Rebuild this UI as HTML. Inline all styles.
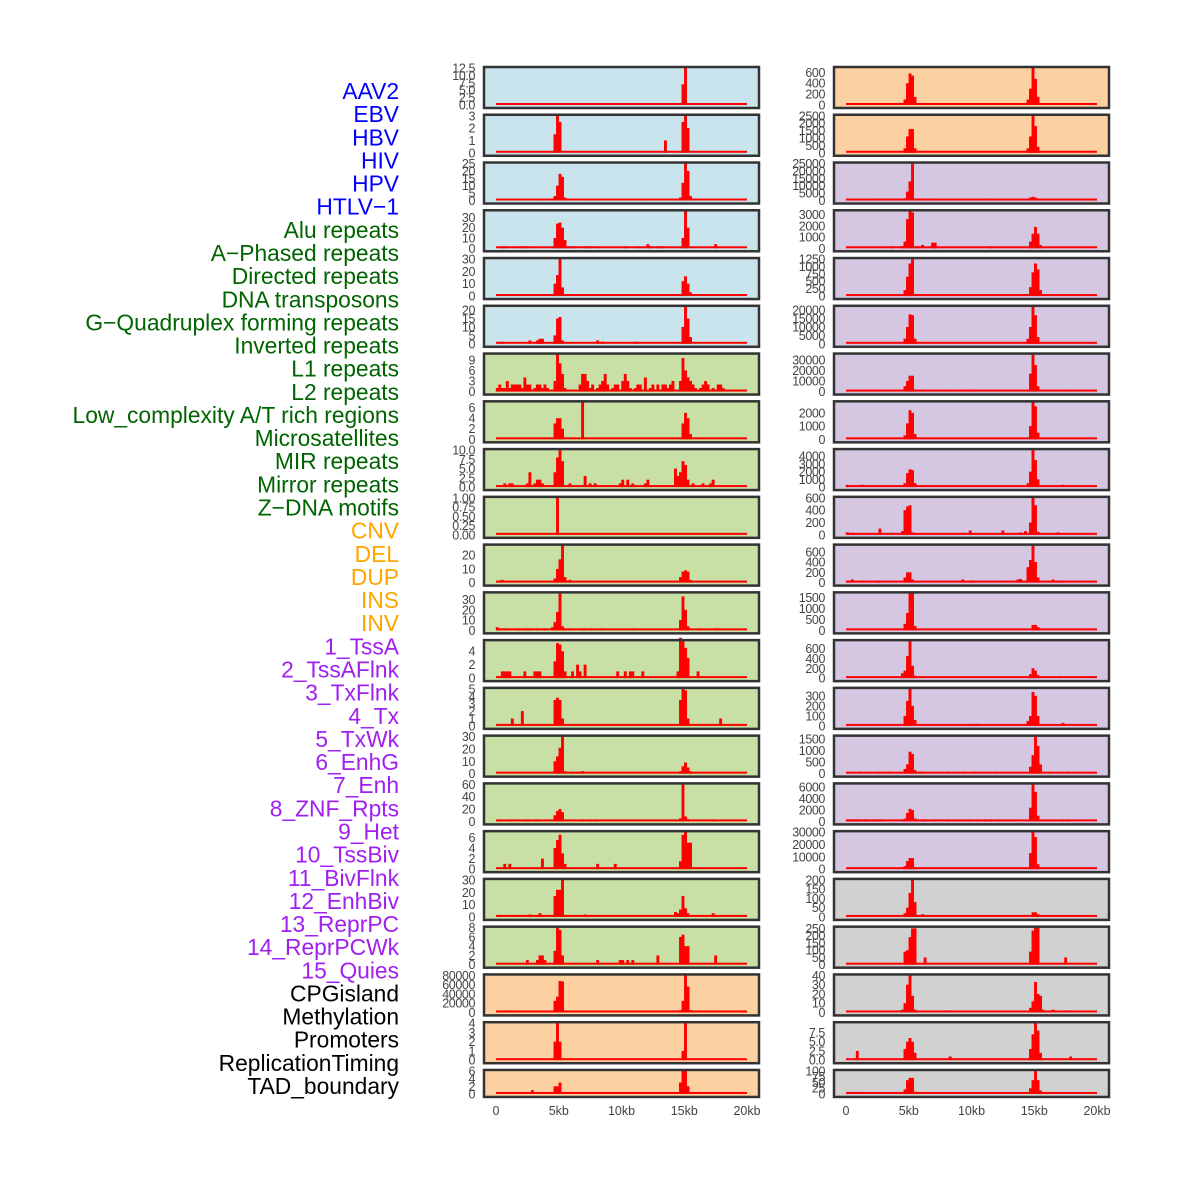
<!DOCTYPE html>
<html><head><meta charset="utf-8"><style>
html,body{margin:0;padding:0;background:#fff;}
svg{display:block;font-family:"Liberation Sans",Arial,sans-serif;}
</style></head><body>
<svg id="chart" width="1182" height="1182" viewBox="0 0 1182 1182" xmlns="http://www.w3.org/2000/svg"></svg>
<script>
// ---- data ----
const labelNames = ["AAV2","EBV","HBV","HIV","HPV","HTLV\u22121","Alu repeats","A\u2212Phased repeats","Directed repeats","DNA transposons","G\u2212Quadruplex forming repeats","Inverted repeats","L1 repeats","L2 repeats","Low_complexity A/T rich regions","Microsatellites","MIR repeats","Mirror repeats","Z\u2212DNA motifs","CNV","DEL","DUP","INS","INV","1_TssA","2_TssAFlnk","3_TxFlnk","4_Tx","5_TxWk","6_EnhG","7_Enh","8_ZNF_Rpts","9_Het","10_TssBiv","11_BivFlnk","12_EnhBiv","13_ReprPC","14_ReprPCWk","15_Quies","CPGisland","Methylation","Promoters","ReplicationTiming","TAD_boundary"];
const labelGroups = [0,0,0,0,0,0,1,1,1,1,1,1,1,1,1,1,1,1,1,2,2,2,2,2,3,3,3,3,3,3,3,3,3,3,3,3,3,3,3,4,4,4,4,4];
const xTickLabels = ["0","5kb","10kb","15kb","20kb"];
const xTickValues = [0,5,10,15,20];
const binKb = 0.2;

// left column panels (row order)
const leftMax = [12.5,3,25,36,30,22,10.5,7,10,1,27,36,5.5,5,30,60,7,30,8,80000,4,6];
const leftTicks = [[0,2.5,5,7.5,10,12.5],[0,1,2,3],[0,5,10,15,20,25],[0,10,20,30],[0,10,20,30],[0,5,10,15,20],[0,3,6,9],[0,2,4,6],[0,2.5,5,7.5,10],[0,0.25,0.5,0.75,1],[0,10,20],[0,10,20,30],[0,2,4],[0,1,2,3,4,5],[0,10,20,30],[0,20,40,60],[0,2,4,6],[0,10,20,30],[0,2,4,6,8],[0,20000,40000,60000,80000],[0,1,2,3,4],[0,2,4,6]];
const leftTickLabels = [["0.0","2.5","5.0","7.5","10.0","12.5"],null,null,null,null,null,null,null,["0.0","2.5","5.0","7.5","10.0"],["0.00","0.25","0.50","0.75","1.00"],null,null,null,null,null,null,null,null,null,null,null,null];
const leftSeries = [
[[74,7],[75,12.5]],
[[23,1.5],[24,3],[25,2.5],[67,1],[74,2.5],[75,3],[76,2]],
[[18,1],[23,3],[24,10],[25,18],[26,16],[27,2],[38,1],[59,1],[73,2],[74,12],[75,25],[76,20],[77,3]],
[[2,1],[3,2],[8,1],[10,2],[12,2],[23,10],[24,24],[25,25],[26,20],[27,8],[29,1],[31,2],[36,1],[37,1],[40,1],[51,1],[56,1],[60,4],[61,2],[64,2],[66,2],[74,10],[75,36],[76,20],[87,4]],
[[23,10],[24,17],[25,30],[26,7],[74,12],[75,16],[76,10],[77,3]],
[[2,1],[13,2],[16,2],[17,3],[18,3],[23,5],[24,15],[25,16],[26,2],[40,2],[42,1],[55,1],[74,10],[75,22],[76,15],[77,4]],
[[0,1],[1,2],[2,1],[3,1],[4,3],[5,1],[6,2],[7,2],[8,2],[9,2],[10,1],[11,4],[12,2],[13,2],[15,1],[16,2],[17,2],[18,1],[19,2],[20,1],[23,3],[24,10.5],[25,8],[26,5],[27,1],[33,2],[34,5],[35,5],[36,3],[37,1],[38,2],[40,1],[41,2],[42,3],[43,5],[44,2],[46,1],[47,2],[48,2],[50,3],[51,5],[52,3],[53,1],[55,1],[56,2],[57,2],[59,4],[61,1],[62,2],[64,2],[66,2],[67,2],[68,1],[69,2],[70,3],[73,3],[74,9.5],[75,6],[76,4],[77,3],[78,2],[79,1],[81,1],[82,2],[83,3],[84,2],[86,1],[88,2],[89,2],[90,1]],
[[23,3],[24,4],[25,4],[26,2],[34,7],[74,3],[75,5],[76,4],[77,1]],
[[3,1],[5,1],[6,1],[12,1],[13,4],[15,1],[16,2],[17,2],[18,1],[23,4],[24,8],[25,10],[26,7],[29,1],[35,3],[37,1],[39,1],[49,1],[50,2],[52,2],[54,1],[59,1],[60,2],[71,5],[72,3],[73,4],[74,7],[75,6],[76,2],[78,1],[82,1],[85,1],[86,2]],
[[24,1]],
[[1,1],[2,2],[23,3],[24,10],[25,17],[26,27],[27,4],[29,2],[73,4],[74,8],[75,9],[76,8],[77,2]],
[[0,3],[1,1],[3,1],[8,1],[9,1],[11,1],[12,2],[13,1],[16,1],[19,2],[22,3],[23,8],[24,18],[25,36],[26,4],[27,2],[29,1],[34,1],[35,2],[37,1],[42,1],[54,1],[73,10],[74,33],[75,20],[76,4],[81,1],[87,2],[88,1]],
[[2,1],[3,1],[4,1],[5,1],[11,1],[15,1],[16,1],[17,1],[23,2.5],[24,5.2],[25,5],[26,4],[27,1],[30,1],[32,2],[33,1],[35,2],[48,1],[51,1],[53,1],[54,1],[58,1],[72,1],[73,6],[74,5.5],[75,4.5],[76,3],[80,1]],
[[6,1],[10,2],[23,3.5],[24,3.8],[25,3.5],[26,1],[73,3.5],[74,5],[75,4.8],[76,1],[89,1]],
[[23,10],[24,14],[25,21],[26,30],[27,2],[29,1],[30,1],[32,1],[34,2],[73,2],[74,6],[75,9],[76,5],[77,2]],
[[1,1],[5,1],[12,2],[15,2],[16,2],[23,10],[24,17],[25,20],[26,15],[27,3],[34,2],[37,2],[39,2],[73,5],[74,60],[75,8],[76,4],[86,2]],
[[3,1],[5,1],[18,2],[23,4],[24,5.5],[25,6.5],[26,3],[27,1],[40,1],[47,1],[73,1.5],[74,6.5],[75,7],[76,5],[77,5]],
[[1,1],[7,1],[13,2],[17,3],[18,1],[23,17],[24,22],[25,22],[26,30],[27,1],[35,2],[37,1],[71,4],[72,3],[73,6],[74,17],[75,7],[76,3],[86,3],[87,1]],
[[12,1],[16,1],[17,2],[18,2],[19,1],[23,3],[24,8],[25,7.5],[26,2],[40,1],[49,1],[50,1],[52,1],[54,1],[64,2],[73,6],[74,6.5],[75,4],[76,4],[87,2]],
[[3,2000],[5,2000],[6,2000],[23,25000],[24,34000],[25,68000],[26,67000],[27,3000],[73,5000],[74,25000],[75,80000],[76,56000],[77,5000],[85,2000],[88,2000]],
[[23,2],[24,4],[25,2],[74,1],[75,4]],
[[14,1],[23,2],[24,2],[25,3],[73,3],[74,6],[75,6],[76,2]]
];

// right column panels (row order)
const rightMax = [680,2500,25000,3300,1250,22000,35000,2800,4800,600,720,1700,750,370,1600,6500,30000,200,255,40,10,100];
const rightTicks = [[0,200,400,600],[0,500,1000,1500,2000,2500],[0,5000,10000,15000,20000,25000],[0,1000,2000,3000],[0,250,500,750,1000,1250],[0,5000,10000,15000,20000],[0,10000,20000,30000],[0,1000,2000],[0,1000,2000,3000,4000],[0,200,400,600],[0,200,400,600],[0,500,1000,1500],[0,200,400,600],[0,100,200,300],[0,500,1000,1500],[0,2000,4000,6000],[0,10000,20000,30000],[0,50,100,150,200],[0,50,100,150,200,250],[0,10,20,30,40],[0,2.5,5,7.5],[0,25,50,75,100]];
const rightTickLabels = [null,null,null,null,null,null,null,null,null,null,null,null,null,null,null,null,null,null,null,null,["0.0","2.5","5.0","7.5"],null];
const rightSeries = [
[[11,20],[34,20],[45,20],[23,100],[24,400],[25,580],[26,540],[27,150],[72,100],[73,300],[74,680],[75,480],[76,150],[77,30]],
[[23,300],[24,1100],[25,1600],[26,1600],[27,300],[72,300],[73,1100],[74,2500],[75,1800],[76,400]],
[[12,1000],[15,1000],[18,1000],[23,1500],[24,6000],[25,13000],[26,25000],[27,1000],[28,1000],[29,1000],[32,1000],[55,800],[72,1000],[73,2000],[74,2500],[75,2000],[76,1000]],
[[18,100],[22,200],[23,600],[24,2600],[25,3300],[26,3200],[27,100],[28,100],[30,300],[34,500],[35,500],[57,100],[73,600],[74,1300],[75,1900],[76,1300],[77,300]],
[[23,200],[24,650],[25,1100],[26,1250],[27,50],[73,300],[74,800],[75,1100],[76,900],[77,200]],
[[23,3000],[24,10000],[25,17500],[26,17000],[27,3000],[72,3000],[73,10000],[74,22000],[75,17000],[76,4000]],
[[3,1000],[7,1000],[9,1000],[11,1000],[23,5000],[24,10000],[25,15000],[26,15000],[27,2000],[31,1000],[39,1000],[48,1000],[49,1000],[50,1000],[72,1000],[73,17000],[74,35000],[75,25000],[76,5000],[87,1000]],
[[23,300],[24,1200],[25,2200],[26,2000],[27,400],[73,1000],[74,2800],[75,2500],[76,500]],
[[0,300],[6,300],[23,500],[24,1800],[25,2300],[26,2200],[27,500],[72,500],[73,2000],[74,4800],[75,3500],[76,1000],[86,300]],
[[0,40],[2,30],[13,100],[18,30],[22,60],[23,400],[24,460],[25,480],[26,40],[46,30],[49,70],[62,70],[69,40],[71,60],[73,200],[74,600],[75,480],[76,50],[84,40]],
[[0,40],[2,60],[6,40],[12,40],[13,40],[22,30],[23,100],[24,200],[25,200],[26,60],[46,60],[49,40],[50,40],[62,30],[68,60],[69,70],[72,300],[73,440],[74,720],[75,400],[76,100],[82,60],[84,40],[86,40]],
[[23,300],[24,800],[25,1700],[26,1700],[27,200],[74,250],[75,250],[76,150]],
[[22,100],[23,150],[24,450],[25,750],[26,250],[27,50],[73,80],[74,200],[75,150],[76,60],[85,30]],
[[49,10],[51,10],[52,10],[23,100],[24,250],[25,370],[26,200],[27,60],[72,50],[73,100],[74,340],[75,300],[76,100],[86,30]],
[[5,50],[13,50],[17,50],[23,200],[24,400],[25,950],[26,850],[27,150],[29,50],[30,50],[40,50],[47,50],[51,50],[59,50],[73,300],[74,800],[75,1600],[76,1200],[77,400],[81,50],[88,50]],
[[0,300],[1,300],[2,300],[3,300],[4,300],[5,300],[7,300],[8,300],[11,300],[12,300],[13,300],[14,300],[23,500],[24,1500],[25,2200],[26,2000],[27,500],[28,200],[30,300],[31,300],[35,300],[40,300],[45,300],[49,300],[52,300],[55,300],[57,300],[60,300],[62,300],[65,300],[73,2400],[74,6500],[75,5200],[76,1000],[79,300],[82,300],[86,300],[88,300]],
[[23,2500],[24,6500],[25,9000],[26,9000],[27,1500],[73,13000],[74,30000],[75,26000],[76,4000]],
[[23,20],[24,50],[25,130],[26,200],[27,80],[30,15],[74,25],[75,25],[76,15]],
[[23,90],[24,100],[25,190],[26,250],[27,250],[31,50],[73,90],[74,235],[75,255],[76,255],[87,50]],
[[22,3],[23,10],[24,30],[25,40],[26,18],[27,3],[41,2],[73,5],[74,12],[75,33],[76,20],[77,18],[78,3],[82,3],[87,2]],
[[4,2.5],[23,3],[24,5],[25,6],[26,5],[27,2],[41,1],[73,3],[74,7],[75,10],[76,8],[77,2],[89,1]],
[[1,5],[3,5],[5,5],[6,5],[11,5],[15,5],[18,5],[23,20],[24,60],[25,70],[26,70],[27,10],[28,5],[30,5],[35,5],[40,5],[45,5],[50,5],[55,5],[60,5],[65,5],[73,25],[74,60],[75,100],[76,60],[77,15],[85,5],[88,5]]
];

// ---- rendering ----
const NS = "http://www.w3.org/2000/svg";
const svg = document.getElementById("chart");
const groupColors = ["#0000ff","#006400","#ffa500","#a020f0","#000000"];
const leftBg = i => i < 6 ? "#c9e4ec" : (i < 19 ? "#c8e0a5" : "#fdd0a2");
const rightBg = i => i < 2 ? "#fdd0a2" : (i < 17 ? "#d5c6e2" : "#d1d1d1");
const leftNames = labelNames.slice(0,19).concat(labelNames.slice(39,42));
const rightNames = labelNames.slice(42,44).concat(labelNames.slice(24,39)).concat(labelNames.slice(19,24));

function mk(tag, attrs, parent){
  const e = document.createElementNS(NS, tag);
  for (const k in attrs) e.setAttribute(k, attrs[k]);
  (parent || svg).appendChild(e);
  return e;
}

labelNames.forEach((name, i) => {
  const t = mk("text", {x:399, y:(99 + i*23.14).toFixed(1), "text-anchor":"end", "font-size":"22.8", fill:groupColors[labelGroups[i]]});
  
  
  t.textContent = name;
});

const rowTop = r => 67 + r*47.76;
const rowH = r => r === 21 ? 27 : 41;

function fmt(v){ return String(v); }

function drawPanel(col, r, maxV, ticks, tickLbls, series, bg, name){
  const px0 = col === 0 ? 484 : 834;
  const pw = 275;
  const x0 = col === 0 ? 496 : 846;
  const x1 = x0 + 251;
  const top = rowTop(r), h = rowH(r);
  const base = top + h - 3, ytop = top + 1;
  const xs = kb => x0 + (kb/20)*(x1-x0);
  const ys = v => base - (v/maxV)*(base-ytop);
  const g = mk("g", {});
  
  
  const bgr = mk("rect", {x:px0, y:top, width:pw, height:h, fill:bg}, g);
  
  
  const bl = mk("rect", {x:xs(0), y:base-2, width:xs(20)-xs(0), height:2, fill:"#ff0000"}, g);
  
  
  series.forEach(([bin, v]) => {
    const xa = xs(bin*binKb), xb = xs((bin+1)*binKb);
    const yv = Math.min(ys(v), base-2);
    const b = mk("rect", {x:(xa-0.2).toFixed(2), y:yv.toFixed(2), width:(xb-xa+0.4).toFixed(2), height:(base-yv).toFixed(2), fill:"#ff0000"}, g);
    
    
  });
  const br = mk("rect", {x:px0, y:top, width:pw, height:h, fill:"none", stroke:"#333", "stroke-width":"2.5"}, g);
  
  
  ticks.forEach((tv, k) => {
    const t = mk("text", {x:px0-9, y:(ys(tv)+4.5).toFixed(1), "text-anchor":"end", "font-size":"12.5", fill:"#444", "letter-spacing":"-0.4"}, g);
    
    
    t.textContent = tickLbls ? tickLbls[k] : fmt(tv);
  });
  if (r === 21){
    xTickValues.forEach((kv, k) => {
      const t = mk("text", {x:xs(kv).toFixed(1), y:1115, "text-anchor":"middle", "font-size":"12.5", fill:"#444"}, g);
      
      
      t.textContent = xTickLabels[k];
    });
  }
}

for (let r = 0; r < 22; r++){
  drawPanel(0, r, leftMax[r], leftTicks[r], leftTickLabels[r], leftSeries[r], leftBg(r), leftNames[r]);
  drawPanel(1, r, rightMax[r], rightTicks[r], rightTickLabels[r], rightSeries[r], rightBg(r), rightNames[r]);
}
</script>
</body></html>
